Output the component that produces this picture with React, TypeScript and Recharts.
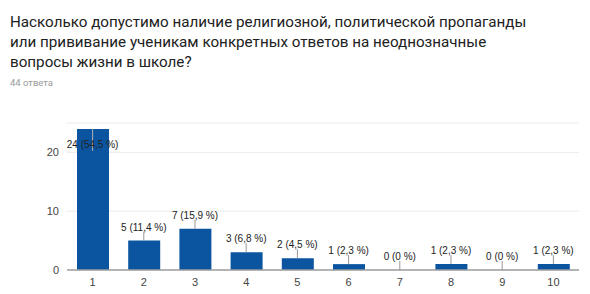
import React from "react";
import { ComposedChart, Bar, Line, XAxis, YAxis, CartesianGrid } from "recharts";

const TITLE = "Насколько допустимо наличие религиозной, политической пропаганды или прививание ученикам конкретных ответов на неоднозначные вопросы жизни в школе?";
const SUBTITLE = "44 ответа";

const categories = ["1", "2", "3", "4", "5", "6", "7", "8", "9", "10"];
const counts = [24, 5, 7, 3, 2, 1, 0, 1, 0, 1];
const total = 44;
const yTicks = [0, 10, 20, 25];

const BAR_BLUE = "#0b55a0";
const PLOT_TOP = 123;
const LABEL_FONT = "Arial, 'Liberation Sans', sans-serif";

const data = categories.map((c, i) => ({ name: c, value: counts[i] }));

function fmtLabel(v: number) {
  const pct = Math.round((v / total) * 1000) / 10;
  return `${v} (${String(pct).replace(".", ",")} %)`;
}

// labels are hung on an invisible line so that zero values get one too
function renderLabel(props: any) {
  const { x, y, value } = props;
  const top = y;
  const text = fmtLabel(value);
  if (top - 20 < PLOT_TOP) {
    // no room above: put it inside the bar
    return (
      <g>
        <line x1={x} x2={x} y1={top} y2={top + 22} stroke="#b0b0b0" strokeWidth={1} />
        <text x={x} y={top + 19} textAnchor="middle" fontSize={10} fill="#222" fontFamily={LABEL_FONT}>
          {text}
        </text>
      </g>
    );
  }
  return (
    <g>
      <line x1={x} x2={x} y1={top} y2={top - 9} stroke="#999" strokeWidth={1} />
      <text x={x} y={top - 10} textAnchor="middle" fontSize={10} fill="#222" fontFamily={LABEL_FONT}>
        {text}
      </text>
    </g>
  );
}

export default function App() {
  return (
    <div style={{ position: "fixed", left: 0, top: 0, width: 590, height: 294, background: "#fff", overflow: "hidden" }}>
      <div
        style={{
          position: "absolute",
          left: 10,
          top: 12,
          width: 540,
          fontFamily: "Roboto, Arial, sans-serif",
          fontSize: 15.2,
          lineHeight: "20px",
          color: "#212121",
        }}
      >
        {TITLE}
      </div>
      <div
        style={{
          position: "absolute",
          left: 10,
          top: 77,
          fontFamily: "Roboto, Arial, sans-serif",
          fontSize: 9.5,
          lineHeight: "12px",
          color: "#999",
        }}
      >
        {SUBTITLE}
      </div>
      <div style={{ position: "absolute", left: 0, top: 0 }}>
        <ComposedChart width={590} height={294} data={data} margin={{ top: PLOT_TOP, right: 11, left: 0, bottom: 0 }}>
          <CartesianGrid vertical={false} stroke="#ebebeb" />
          <XAxis
            dataKey="name"
            height={24}
            axisLine={{ stroke: "#9e9e9e", strokeWidth: 1.5 }}
            tickLine={false}
            tickSize={0}
            tickMargin={8}
            tick={{ fill: "#444", fontSize: 11, fontFamily: LABEL_FONT }}
          />
          <YAxis
            width={67}
            domain={[0, 25]}
            ticks={yTicks}
            axisLine={false}
            tickLine={false}
            tickSize={0}
            tickMargin={8}
            tickFormatter={(v: number) => (v === 25 ? "" : String(v))}
            tick={{ fill: "#444", fontSize: 11, fontFamily: LABEL_FONT }}
          />
          <Bar dataKey="value" fill={BAR_BLUE} barSize={32} isAnimationActive={false} />
          <Line
            dataKey="value"
            stroke="none"
            dot={false}
            activeDot={false}
            legendType="none"
            isAnimationActive={false}
            label={renderLabel}
          />
        </ComposedChart>
      </div>
    </div>
  );
}
